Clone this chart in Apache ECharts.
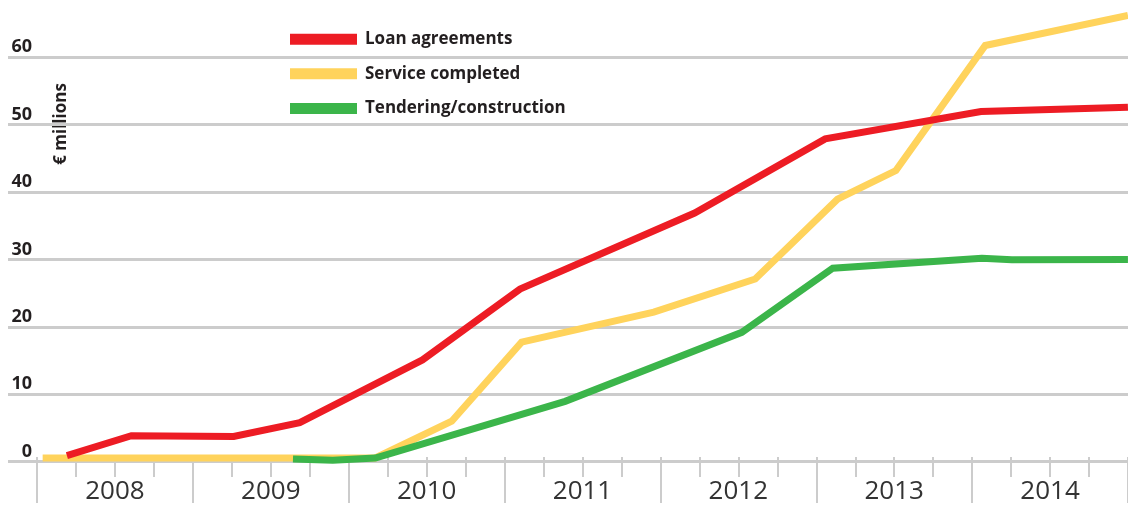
<!DOCTYPE html>
<html>
<head>
<meta charset="utf-8">
<script src="https://cdn.jsdelivr.net/npm/echarts@6/dist/echarts.min.js"></script>
<style>
  html, body { margin: 0; padding: 0; background: #fff; }
  #chart { width: 1128px; height: 505px; }
</style>
</head>
<body>
<div id="chart"></div>
<script>
// ---- Data (x = decimal year, y = € millions) ----
const seriesNames = ['Loan agreements', 'Service completed', 'Tendering/construction'];
const yearLabels = ['2008', '2009', '2010', '2011', '2012', '2013', '2014'];
const yTickValues = [0, 10, 20, 30, 40, 50, 60];

const loanX = [2008.19, 2008.60, 2009.25, 2009.67, 2010.45, 2011.07, 2012.18, 2013.01, 2014.00, 2014.934];
const loanY = [0.9, 3.85, 3.75, 5.8, 15.1, 25.6, 36.9, 47.9, 51.95, 52.6];

const serviceX = [2008.036, 2010.15, 2010.636, 2011.08, 2011.92, 2012.565, 2013.088, 2013.459, 2014.027, 2014.934];
const serviceY = [0.55, 0.55, 6.0, 17.75, 22.2, 27.1, 38.95, 43.2, 61.75, 66.2];

const tenderX = [2009.627, 2009.88, 2010.15, 2011.357, 2012.48, 2013.058, 2014.006, 2014.196, 2014.934];
const tenderY = [0.4, 0.2, 0.55, 8.95, 19.2, 28.7, 30.2, 29.95, 30.0];

const colors = ['#ED1C24', '#FFD35C', '#3BB54A'];

function zip(xs, ys) { return xs.map((x, i) => [x, ys[i]]); }

const chart = echarts.init(document.getElementById('chart'), null, { renderer: 'canvas' });

const pxPerYear = 157.33;
const dataMin = 2008 - 29 / pxPerYear;
const dataMax = 2008 + 1091 / pxPerYear;
const tickGridRight = 1128 - 37 - 7 * pxPerYear;

function lineSeries(i, xs, ys, z) {
  return {
    name: seriesNames[i],
    type: 'line',
    xAxisIndex: 0,
    yAxisIndex: 0,
    data: zip(xs, ys),
    showSymbol: false,
    symbol: 'none',
    clip: false,
    z: z,
    itemStyle: { color: colors[i] },
    lineStyle: { color: colors[i], width: 7, cap: 'butt', join: 'miter' },
    emphasis: { disabled: true }
  };
}

const gray = '#CCCCCC';

const option = {
  animation: false,
  backgroundColor: '#fff',
  textStyle: { fontFamily: 'Open Sans' },
  grid: [
    { left: 8, right: 0, top: 57.3, bottom: 43.3 },
    { left: 37, right: tickGridRight, top: 457, bottom: 0 },
    { left: 37, right: tickGridRight, top: 457, height: 20 }
  ],
  legend: {
    orient: 'vertical',
    left: 290,
    top: 29.2,
    padding: 0,
    itemGap: 14.6,
    itemWidth: 67,
    itemHeight: 11,
    icon: 'rect',
    selectedMode: false,
    data: seriesNames,
    textStyle: {
      fontFamily: 'Open Sans',
      fontWeight: 'bold',
      fontSize: 17,
      lineHeight: 20,
      color: '#231F20',
      padding: [0, 0, 0, 3]
    }
  },
  graphic: [{
    type: 'text',
    x: 61,
    y: 124,
    rotation: Math.PI / 2,
    style: {
      text: '€ millions',
      fontFamily: 'Open Sans',
      fontWeight: 'bold',
      fontSize: 17,
      fill: '#231F20',
      align: 'center',
      verticalAlign: 'middle'
    }
  }],
  xAxis: [
    {
      type: 'value', gridIndex: 0, min: dataMin, max: dataMax, show: false,
      splitLine: { show: false }
    },
    {
      // year boundaries (long ticks)
      type: 'value', gridIndex: 1, position: 'top',
      min: 2008, max: 2015, interval: 1,
      axisLine: { show: false },
      axisTick: { show: false },
      axisLabel: { show: false },
      splitLine: { show: true, lineStyle: { color: gray, width: 2 } }
    },
    {
      // year labels, centred in each year
      type: 'category', gridIndex: 1, position: 'bottom',
      data: yearLabels, boundaryGap: true,
      axisLine: { show: false },
      axisTick: { show: false },
      splitLine: { show: false },
      axisLabel: {
        show: true, inside: true, margin: -2, interval: 0,
        fontFamily: 'Open Sans', fontSize: 26, color: '#333333',
        verticalAlign: 'bottom'
      }
    },
    {
      // quarter ticks (short)
      type: 'value', gridIndex: 2, position: 'top',
      min: 2008, max: 2015, interval: 1,
      axisLine: { show: false },
      axisTick: { show: false },
      axisLabel: { show: false },
      splitLine: { show: false },
      minorTick: { show: false, splitNumber: 4 },
      minorSplitLine: { show: true, lineStyle: { color: gray, width: 2 } }
    }
  ],
  yAxis: [
    {
      type: 'value', gridIndex: 0, min: yTickValues[0], max: yTickValues[yTickValues.length - 1], interval: 10,
      axisLine: { show: false },
      axisTick: { show: false },
      splitLine: { show: true, lineStyle: { color: gray, width: 3 } },
      axisLabel: {
        margin: -24,
        fontFamily: 'Open Sans', fontWeight: 'bold', fontSize: 18, color: '#231F20',
        verticalAlign: 'bottom', padding: [0, 0, 1, 0]
      }
    },
    { type: 'value', gridIndex: 1, show: false, min: 0, max: 1, splitLine: { show: false } },
    { type: 'value', gridIndex: 2, show: false, min: 0, max: 1, splitLine: { show: false } }
  ],
  series: [
    lineSeries(0, loanX, loanY, 4),
    lineSeries(1, serviceX, serviceY, 2),
    lineSeries(2, tenderX, tenderY, 3)
  ]
};

chart.setOption(option);
</script>
</body>
</html>
